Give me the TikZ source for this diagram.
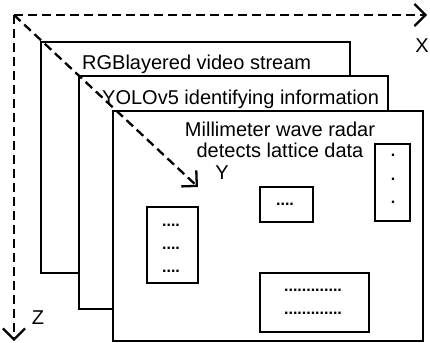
\documentclass[tikz,border=0pt]{standalone}
\usepackage{fontspec}
\setmainfont{Liberation Sans}
\usetikzlibrary{arrows.meta}
\begin{document}
\begin{tikzpicture}[x=1pt,y=-1pt,
  layer/.style={draw, fill=white, line width=2.4pt, inner sep=0pt, anchor=north west},
  databox/.style={draw, fill=white, line width=2.4pt, inner sep=0pt, anchor=north west},
  lbl/.style={inner sep=0pt, font=\fontsize{20}{24}\selectfont},
  dots/.style={inner sep=0pt, font=\fontsize{16}{18}\selectfont\bfseries},
  axis/.style={line width=2.3pt, dash pattern=on 9pt off 5pt, -{Straight Barb[length=11pt,width=22pt,line width=2.3pt]}}]
\useasboundingbox (0,0) rectangle (430,342);
% layers
\node[layer, minimum width=309pt, minimum height=231pt] (L1) at (40,41) {};
\node[layer, minimum width=309pt, minimum height=233pt] (L2) at (78,75) {};
\node[layer, minimum width=310pt, minimum height=230pt] (L3) at (112,110) {};
% data boxes
\node[databox, minimum width=35pt, minimum height=77pt] (B1) at (374,143) {};
\node[databox, minimum width=53pt, minimum height=35pt] (B2) at (259,186) {};
\node[databox, minimum width=51pt, minimum height=76pt] (B3) at (146,206) {};
\node[databox, minimum width=109pt, minimum height=59pt] (B4) at (259,272) {};
% texts
\node[lbl, anchor=base west] (t1) at (82,70) {RGBlayered video stream};
\node[lbl, anchor=base west] (t2) at (102,104) {YOLOv5 identifying information};
\node[lbl, anchor=base] (t3) at (280,136) {Millimeter wave radar};
\node[lbl, anchor=base] (t4) at (280,157) {detects lattice data};
% dots
\node[dots] (d1) at (393,155) {.};
\node[dots] (d2) at (393,179) {.};
\node[dots] (d3) at (393,202) {.};
\node[dots] (d4) at (285,204) {....};
\node[dots] (d5) at (171,225) {....};
\node[dots] (d6) at (171,248) {....};
\node[dots] (d7) at (171,271) {....};
\node[dots] (d8) at (313,290) {.............};
\node[dots] (d9) at (313,313) {.............};
% axes
\coordinate (O) at (14,15);
\coordinate (XE) at (427,15);
\coordinate (ZE) at (14,341);
\coordinate (YE) at (198,187);
\draw[axis] (O) -- (XE);
\draw[axis] (O) -- (ZE);
\draw[axis] (O) -- (YE);
\node[lbl] (X) at (422,46) {X};
\node[lbl] (Y) at (222,173) {Y};
\node[lbl] (Z) at (38,318) {Z};
\end{tikzpicture}
\end{document}
